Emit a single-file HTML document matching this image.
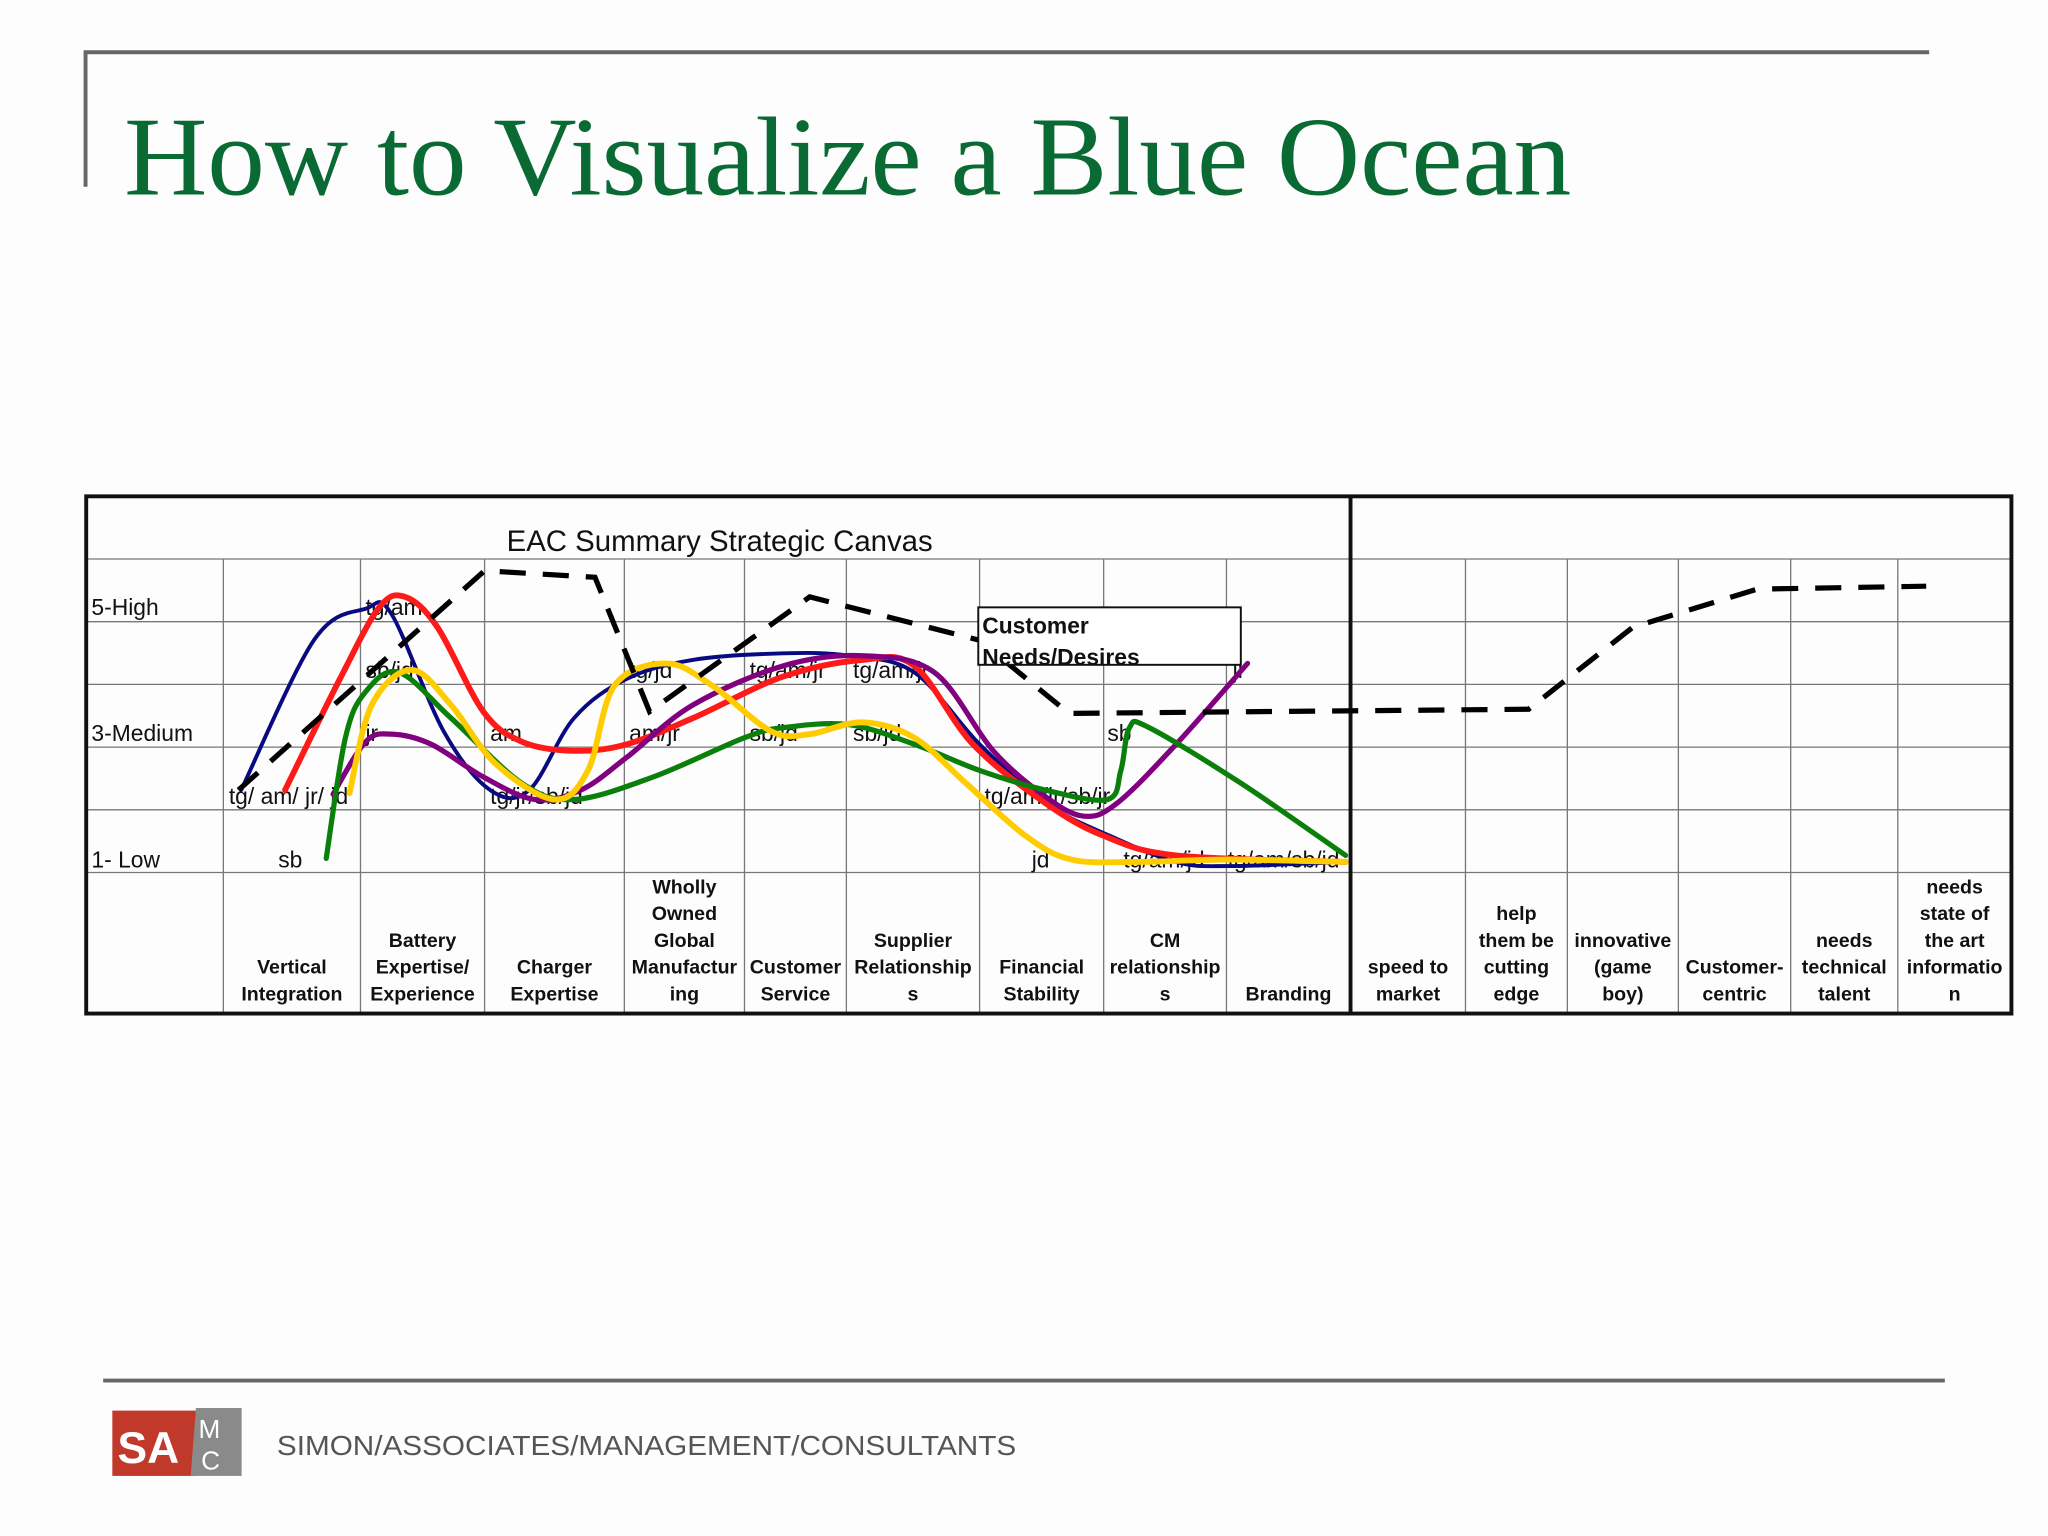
<!DOCTYPE html>
<html><head><meta charset="utf-8"><style>
html,body{margin:0;padding:0;background:#fdfdfe;}
svg{display:block;}
text{font-family:"Liberation Sans",sans-serif;}
</style></head><body>
<svg id="s" width="2048" height="1536" viewBox="0 0 1568 1176" xmlns="http://www.w3.org/2000/svg">
<rect width="1568" height="1176" fill="#fdfdfe"/>
<path d="M64 40 H1477 M65.5 39 V143" stroke="#666" stroke-width="3" fill="none"/>
<text x="95" y="149" font-size="86" fill="#0a6a34" style="font-family:'Liberation Serif',serif" textLength="1108" lengthAdjust="spacingAndGlyphs">How to Visualize a Blue Ocean</text>
<g id="chart"></g>
<line x1="79" y1="1057" x2="1489" y2="1057" stroke="#666" stroke-width="3"/>
<g>
<rect x="86" y="1080" width="64" height="50" fill="#c0392b"/>
<path d="M150 1078 H185 V1130 H146 Z" fill="#8a8a8a"/>
<text x="90" y="1120" font-size="34" fill="#fff" font-weight="bold">SA</text>
<text x="152" y="1101" font-size="20" fill="#fff">M</text>
<text x="154" y="1125" font-size="20" fill="#fff">C</text>
</g>
<text x="212" y="1114" font-size="21" fill="#555" textLength="566" lengthAdjust="spacingAndGlyphs">SIMON/ASSOCIATES/MANAGEMENT/CONSULTANTS</text>
</svg>
<script>
// data
const categories=["Vertical|Integration","Battery|Expertise/|Experience","Charger|Expertise","Wholly|Owned|Global|Manufactur|ing","Customer|Service","Supplier|Relationship|s","Financial|Stability","CM|relationship|s","Branding","speed to|market","help|them be|cutting|edge","innovative|(game|boy)","Customer-|centric","needs|technical|talent","needs|state of|the art|informatio|n"];
const levelLabels=["5-High","3-Medium","1- Low"];
const levelValues=[5,3,1];
const needsX=[1.11,3.0,3.79,4.21,5.64,7.0,7.72,11.62,12.59,13.7,15.25];
const needsY=[1.86,5.55,5.44,3.18,5.11,4.38,3.15,3.22,4.6,5.24,5.29];
const blueX=[1.13,1.66,2.04,2.25,2.67,3.04,3.32,3.64,4.02,4.57,5.38,6.02,6.51,7.0,7.53,8.05,8.59,9.01,9.96];
const blueY=[1.86,4.38,4.91,4.82,2.85,1.86,1.86,3.07,3.73,4.05,4.16,4.12,3.84,2.63,1.64,1.09,0.65,0.58,0.65];
const redX=[1.45,1.85,2.15,2.36,2.62,2.99,3.27,3.64,4.02,4.57,5.38,6.12,6.51,6.95,7.53,8.0,8.59,9.96];
const redY=[1.86,3.73,4.93,5.11,4.60,3.18,2.67,2.52,2.63,3.07,3.77,4.05,3.95,2.63,1.64,1.09,0.76,0.65];
const purpleX=[1.8,2.04,2.25,2.57,2.99,3.36,3.69,4.02,4.57,5.38,6.12,6.66,7.11,7.53,7.84,8.11,8.59,9.17];
const purpleY=[1.79,2.67,2.80,2.63,2.08,1.70,1.86,2.41,3.29,3.95,4.12,3.84,2.52,1.75,1.42,1.64,2.63,3.99];
const yellowX=[1.92,2.09,2.41,2.73,3.08,3.5,3.74,3.93,4.35,4.73,5.26,5.64,6.12,6.51,6.9,7.37,7.74,8.27,9.01,9.96];
const yellowY=[1.81,3.29,3.88,3.29,2.30,1.70,2.19,3.62,3.99,3.62,2.85,2.80,3.0,2.74,1.97,1.09,0.69,0.65,0.69,0.65];
const greenX=[1.75,1.89,2.04,2.31,2.73,3.27,3.64,4.24,5.0,5.38,6.02,6.51,7.0,7.53,8.03,8.14,8.21,8.37,9.12,9.96];
const greenY=[0.71,2.74,3.51,3.84,3.07,1.97,1.70,2.08,2.74,2.91,2.96,2.63,2.19,1.86,1.70,2.19,2.91,2.91,1.97,0.76];
const annText=["tg/am","sb/jd","jr","am","tg/jr/sb/jd","tg/jd","am/jr","tg/am/jr","sb/jd","tg/am/jr","sb/jd","tg/am/jr/sb/jr","jd","sb","jr","tg/am/jd","tg/am/sb/jd","tg/ am/ jr/ jd","sb"];
const annX=[2.04,2.04,2.04,3.04,3.04,4.04,4.04,5.05,5.05,6.05,6.05,7.04,7.42,8.03,9.05,8.16,9.01,1.04,1.4];
const annY=[5,4,3,3,2,4,3,4,3,4,3,2,1,3,4,1,1,2,1];

const B=[66,171,276,371,478,570,648,750,845,939,1034,1122,1200,1285,1371,1453,1540];
function xs(i){const k=Math.max(0,Math.min(15,Math.floor(i)));return B[k]+(i-k)*(B[k+1]-B[k]);}
function ys(v){return 644-(v-1)*45.5;}
function ly(v){return 663-(v-1)*48.25;}
const NS="http://www.w3.org/2000/svg";
const g=document.getElementById('chart');
function mk(t,a,p){const e=document.createElementNS(NS,t);for(const k in a)e.setAttribute(k,a[k]);(p||g).appendChild(e);return e;}
const rows=[428,476,524,572,620,668];
rows.forEach(y=>{const l=mk('line',{x1:66,x2:1540,y1:y,y2:y,stroke:'#777','stroke-width':1});

});
for(let k=1;k<16;k++){if(k===10)continue;const l=mk('line',{x1:B[k],x2:B[k],y1:428,y2:776,stroke:'#777','stroke-width':1});

}
const box=mk('rect',{x:66,y:380,width:1474,height:396,fill:'none',stroke:'#111','stroke-width':3});


const dv=mk('line',{x1:1034,x2:1034,y1:380,y2:776,stroke:'#111','stroke-width':3});


const ct=mk('text',{x:551,y:422,'font-size':22.5,'text-anchor':'middle',fill:'#111'});ct.textContent='EAC Summary Strategic Canvas';


levelLabels.forEach((s,i)=>{const t=mk('text',{x:70,y:ly(levelValues[i])+1,'font-size':17.5,fill:'#111'});t.textContent=s;

});
categories.forEach((c,i)=>{const lines=c.split('|');const cx=(B[i+1]+B[i+2])/2;
lines.forEach((ln,j)=>{const t=mk('text',{x:cx,y:766-(lines.length-1-j)*20.5,'font-size':15,'font-weight':'bold','text-anchor':'middle',fill:'#111'});t.textContent=ln;

});});
annText.forEach((s,i)=>{const t=mk('text',{x:xs(annX[i]),y:ly(annY[i])+1,'font-size':17.5,fill:'#111'});t.textContent=s;

});
function smooth(X,Y){const P=X.map((x,i)=>[xs(x),ys(Y[i])]);let d='M'+P[0][0]+' '+P[0][1];
for(let i=0;i<P.length-1;i++){const p0=P[Math.max(0,i-1)],p1=P[i],p2=P[i+1],p3=P[Math.min(P.length-1,i+2)];
const c1=[p1[0]+(p2[0]-p0[0])/6,p1[1]+(p2[1]-p0[1])/6],c2=[p2[0]-(p3[0]-p1[0])/6,p2[1]-(p3[1]-p1[1])/6];
d+=` C${c1[0]} ${c1[1]} ${c2[0]} ${c2[1]} ${p2[0]} ${p2[1]}`;}return d;}
const series=[[blueX,blueY,'#0a0a80',3,'series-blue'],[redX,redY,'#ff1a1a',4.5,'series-red'],[purpleX,purpleY,'#800080',4,'series-purple'],[greenX,greenY,'#0a800a',4,'series-green'],[yellowX,yellowY,'#ffcc00',4.5,'series-yellow']];
series.forEach(s=>{const p=mk('path',{d:smooth(s[0],s[1]),fill:'none',stroke:s[2],'stroke-width':s[3],'stroke-linecap':'round'});

});
const nd=mk('polyline',{points:needsX.map((x,i)=>xs(x)+','+ys(needsY[i])).join(' '),fill:'none',stroke:'#000','stroke-width':4,'stroke-dasharray':'20,13'});


const lb=mk('rect',{x:749,y:465,width:201,height:44,fill:'#fff',stroke:'#111','stroke-width':1.5});


const l1=mk('text',{x:752,y:485,'font-size':17.5,'font-weight':'bold',fill:'#111'});l1.textContent='Customer';


const l2=mk('text',{x:752,y:509,'font-size':17.5,'font-weight':'bold',fill:'#111'});l2.textContent='Needs/Desires';


</script>
</body></html>
